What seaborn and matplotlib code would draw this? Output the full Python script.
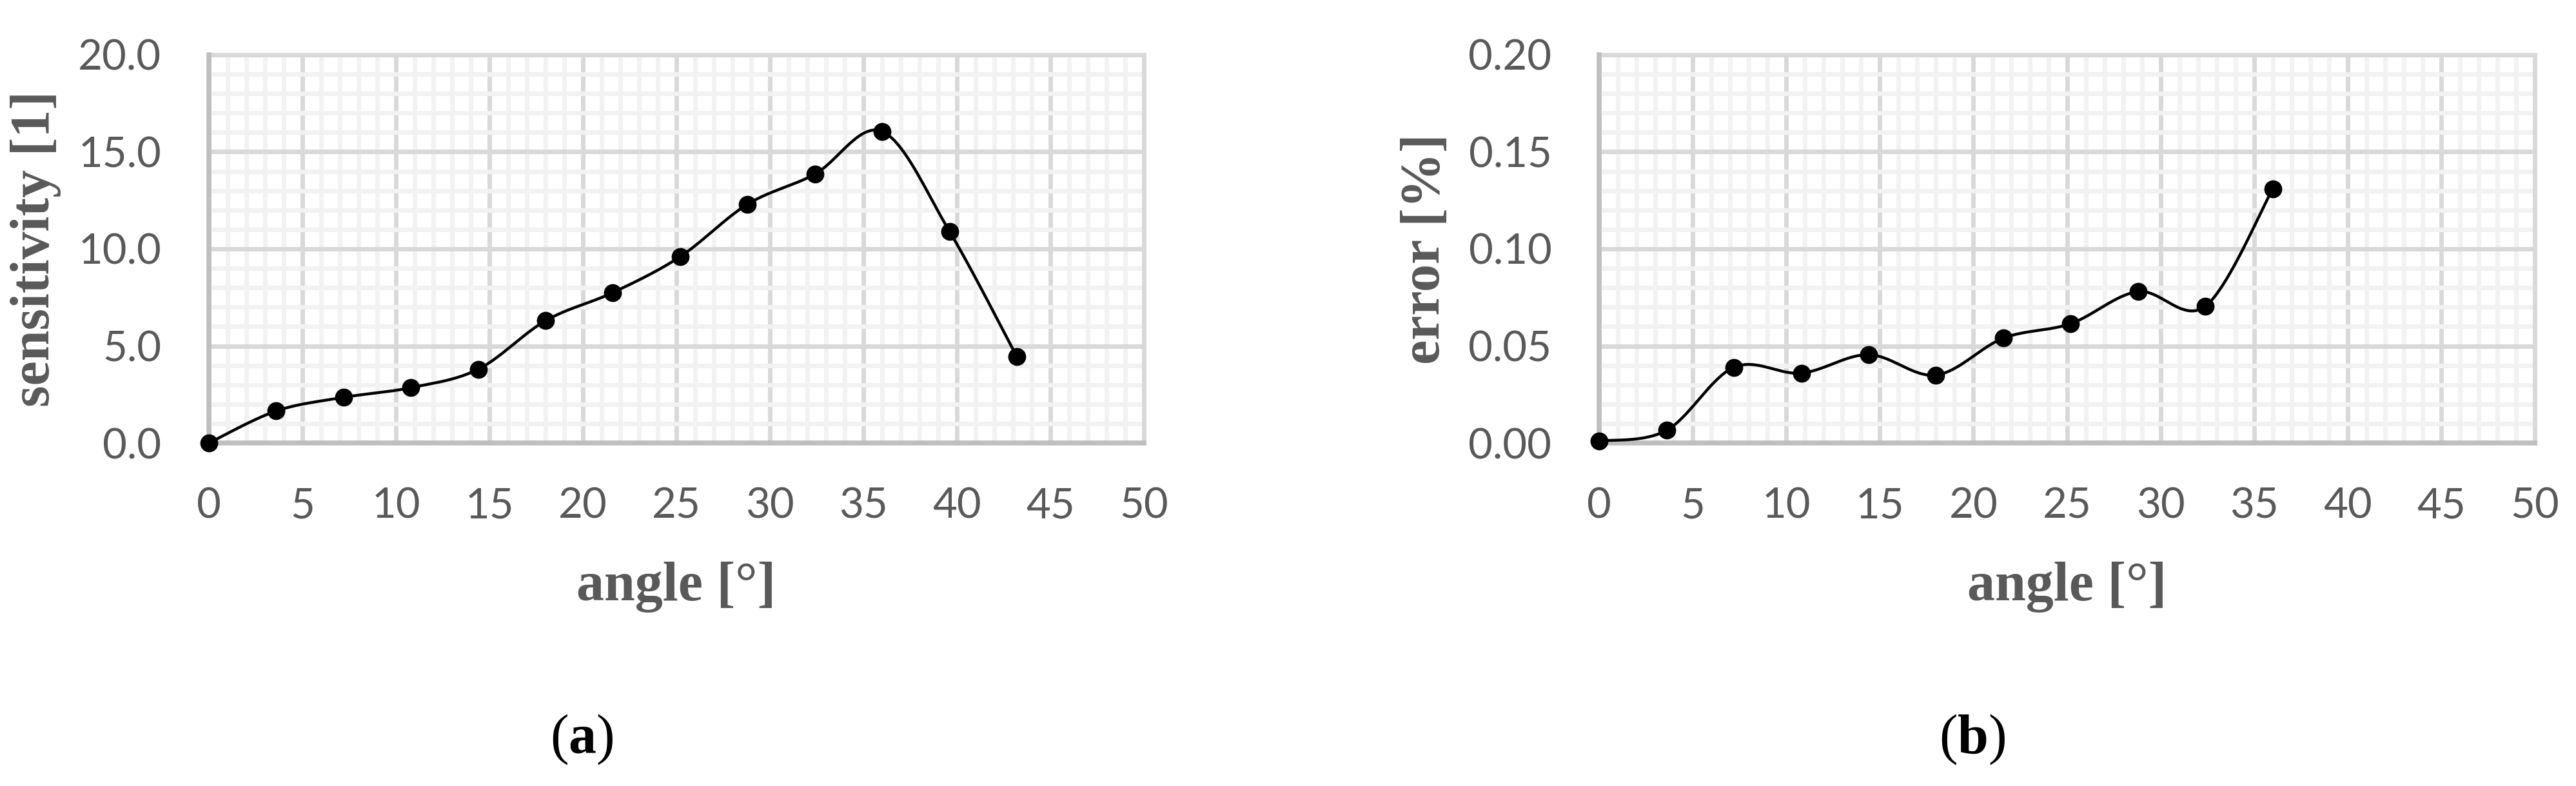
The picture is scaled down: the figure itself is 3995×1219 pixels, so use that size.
import numpy as np
import pandas as pd
import seaborn as sns
import matplotlib
matplotlib.use("Agg")
import matplotlib.pyplot as plt
from matplotlib.ticker import MultipleLocator, FormatStrFormatter

# data
angle_a = [0, 3.6, 7.2, 10.8, 14.4, 18.0, 21.6, 25.2, 28.8, 32.4, 36.0, 39.6, 43.2]
sensitivity = [0.0, 1.65, 2.35, 2.85, 3.8, 6.3, 7.75, 9.6, 12.3, 13.85, 16.05, 10.9, 4.45]

angle_b = [0, 3.6, 7.2, 10.8, 14.4, 18.0, 21.6, 25.2, 28.8, 32.4, 36.0]
error = [0.001, 0.0065, 0.039, 0.036, 0.0455, 0.035, 0.054, 0.0615, 0.078, 0.0705, 0.131]

x_ticks = [0, 5, 10, 15, 20, 25, 30, 35, 40, 45, 50]

sns.set_style("white")
plt.rcParams["font.family"] = ["Lato", "DejaVu Sans"]
plt.rcParams["mathtext.fontset"] = "custom"
plt.rcParams["mathtext.rm"] = "Liberation Serif"
plt.rcParams["mathtext.bf"] = "Liberation Serif:bold"

GRID_MAJ = "#d9d9d9"
GRID_MIN = "#f2f2f2"
AXIS = "#bfbfbf"
TXT = "#595959"


def smooth(x, y, n=40):
    # excel-like smoothed line (catmull-rom bezier)
    x = np.asarray(x, float)
    y = np.asarray(y, float)
    px = np.concatenate([[x[0]], x, [x[-1]]])
    py = np.concatenate([[y[0]], y, [y[-1]]])
    t = np.linspace(0, 1, n)
    xs, ys = [], []
    for i in range(1, len(px) - 2):
        c1x = px[i] + (px[i + 1] - px[i - 1]) / 6
        c1y = py[i] + (py[i + 1] - py[i - 1]) / 6
        c2x = px[i + 1] - (px[i + 2] - px[i]) / 6
        c2y = py[i + 1] - (py[i + 2] - py[i]) / 6
        b0, b1, b2, b3 = (1 - t) ** 3, 3 * t * (1 - t) ** 2, 3 * t ** 2 * (1 - t), t ** 3
        xs.append(b0 * px[i] + b1 * c1x + b2 * c2x + b3 * px[i + 1])
        ys.append(b0 * py[i] + b1 * c1y + b2 * c2y + b3 * py[i + 1])
    return np.concatenate(xs), np.concatenate(ys)


def panel(ax, x, y, ymax, ystep, fmt, ylabel):
    sx, sy = smooth(x, y)
    curve = pd.DataFrame({"x": sx, "y": sy})
    pts = pd.DataFrame({"x": x, "y": y})
    sns.lineplot(data=curve, x="x", y="y", sort=False, estimator=None,
                 color="black", lw=3.2, ax=ax, zorder=4)
    sns.scatterplot(data=pts, x="x", y="y", color="black", s=400,
                    linewidth=0, ax=ax, zorder=5, clip_on=False)

    ax.set_xlim(0, 50)
    ax.set_ylim(0, ymax)
    ax.set_xticks(x_ticks)
    ax.xaxis.set_minor_locator(MultipleLocator(1))
    ax.yaxis.set_major_locator(MultipleLocator(ystep))
    ax.yaxis.set_minor_locator(MultipleLocator(ystep / 5))
    ax.yaxis.set_major_formatter(FormatStrFormatter(fmt))

    ax.set_axisbelow(True)
    ax.grid(which="minor", color=GRID_MIN, lw=5)
    ax.grid(which="major", color=GRID_MAJ, lw=5)

    for s in ["top", "right"]:
        ax.spines[s].set_color(GRID_MAJ)
        ax.spines[s].set_linewidth(5)
    for s in ["left", "bottom"]:
        ax.spines[s].set_color(AXIS)
        ax.spines[s].set_linewidth(5.5)
        ax.spines[s].set_zorder(3)

    ax.tick_params(which="major", direction="out", length=17, width=5,
                   color=AXIS, labelcolor=TXT, labelsize=47)
    ax.tick_params(axis="y", which="major", pad=36)
    ax.tick_params(axis="x", which="major", pad=32)
    ax.tick_params(which="minor", length=0)

    ax.set_xlabel("angle [°]", family="Liberation Serif", weight="bold",
                  fontsize=62, color=TXT)
    ax.set_ylabel(ylabel, family="Liberation Serif", weight="bold",
                  fontsize=62, color=TXT)
    ax.xaxis.set_label_coords(0.5, -0.305)
    ax.yaxis.set_label_coords(-0.158, 0.5)


fig = plt.figure(figsize=(39.95, 12.19), dpi=100)
ax_a = fig.add_axes([0.0811, 0.4364, 0.3630, 0.4939])
ax_b = fig.add_axes([0.6208, 0.4364, 0.3632, 0.4939])

panel(ax_a, angle_a, sensitivity, 20, 5, "%.1f", "sensitivity [1]")
panel(ax_b, angle_b, error, 0.2, 0.05, "%.2f", "error [%]")

fig.text(0.2258, 0.0418, r"$\mathrm{(}\mathbf{a}\mathrm{)}$", ha="center",
         va="baseline", fontsize=62, color="black")
fig.text(0.7657, 0.0418, r"$\mathrm{(}\mathbf{b}\mathrm{)}$", ha="center",
         va="baseline", fontsize=62, color="black")

fig.savefig("out.png", dpi=100, facecolor="white")
